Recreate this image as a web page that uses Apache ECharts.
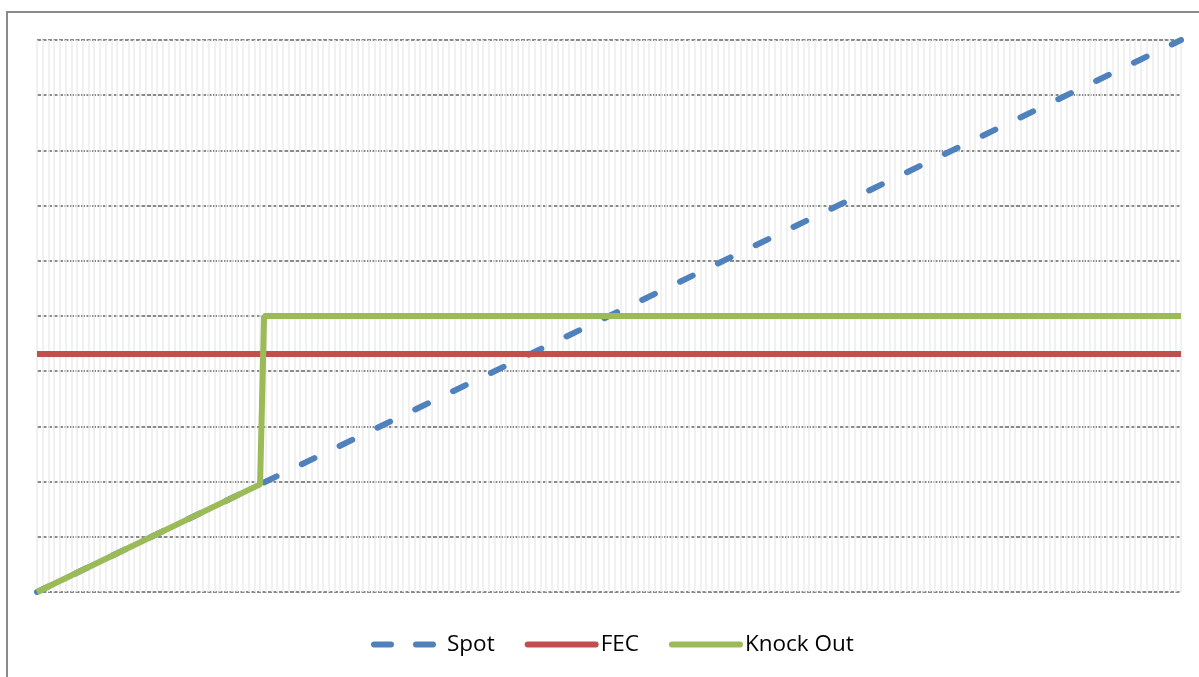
<!DOCTYPE html>
<html>
<head>
<meta charset="utf-8">
<script src="https://cdn.jsdelivr.net/npm/echarts@6/dist/echarts.min.js"></script>
<style>
  html, body { margin: 0; padding: 0; background: #fff; overflow: hidden; }
  #frame { position: absolute; left: 6px; top: 11px; width: 1300px; height: 800px; border: 2px solid #8a8a8a; box-sizing: border-box; }
  #chart { position: absolute; left: 0; top: 0; width: 1199px; height: 677px; }
</style>
</head>
<body>
<div id="frame"></div>
<div id="chart"></div>
<script>
// points: [x step, level]
const spotData = [[0, 0], [200, 10]];
const fecData = [[0, 4.31], [200, 4.31]];
const knockOutData = [[0, 0], [39, 1.95], [39.7, 5], [200, 5]];
const seriesNames = ["Spot", "FEC", "Knock Out"];

const chart = echarts.init(document.getElementById("chart"));
chart.setOption({
  animation: false,
  grid: { left: 37, right: 18, top: 40, bottom: 85 },
  legend: {
    data: [
      { name: seriesNames[0], lineStyle: { type: [17, 25], width: 6, cap: "round" } },
      { name: seriesNames[1] },
      { name: seriesNames[2] },
    ],
    bottom: 16,
    left: 366,
    itemWidth: 68,
    itemHeight: 14,
    itemGap: 30,
    itemStyle: { opacity: 0 },
    lineStyle: { width: 6, cap: "round" },
    textStyle: { fontFamily: "Open Sans", fontSize: 22.5, color: "#000" },
  },
  xAxis: {
    type: "value",
    min: 0,
    max: 200,
    interval: 1,
    axisLine: { show: false },
    axisTick: { show: false },
    axisLabel: { show: false },
    splitLine: { lineStyle: { color: "#ececec", width: 1.5 } },
  },
  yAxis: {
    type: "value",
    min: 0,
    max: 10,
    interval: 1,
    axisLine: { show: false },
    axisTick: { show: false },
    axisLabel: { show: false },
    splitLine: { lineStyle: { color: "#8a8a8a", width: 2, type: [4, 1.5] } },
  },
  series: [
    {
      name: "Spot",
      type: "line",
      data: spotData,
      symbol: "none",
      color: "#4f81bd",
      lineStyle: { width: 6, type: [14, 28], cap: "round" },
      z: 3,
    },
    {
      name: "FEC",
      type: "line",
      data: fecData,
      symbol: "none",
      color: "#c0504d",
      lineStyle: { width: 6 },
      z: 4,
    },
    {
      name: "Knock Out",
      type: "line",
      data: knockOutData,
      symbol: "none",
      color: "#9bbb59",
      lineStyle: { width: 6 },
      z: 5,
    },
  ],
});
</script>
</body>
</html>
